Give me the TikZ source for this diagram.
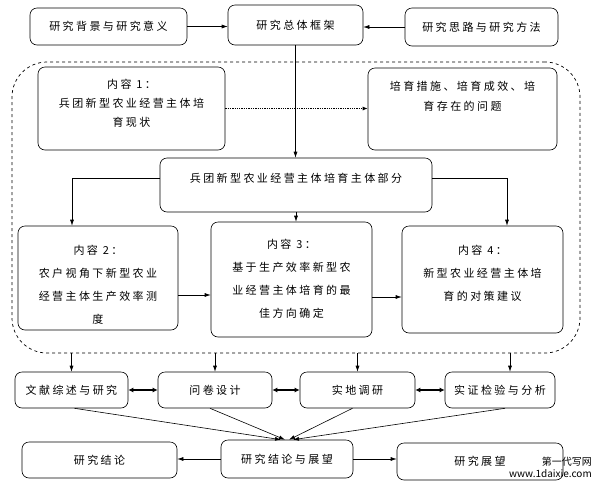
\documentclass[tikz,border=0pt]{standalone}
\usepackage{fontspec}
\newfontfamily\cjk[LetterSpace=22]{Noto Sans CJK SC}
\newfontfamily\wmfont{Noto Sans CJK SC}
\usetikzlibrary{arrows.meta}
\begin{document}
\begin{tikzpicture}[x=1pt,y=-1pt,
 box/.style={draw, rounded corners=7pt, line width=0.6pt, inner sep=0pt},
 txt/.style={font=\cjk\fontsize{11}{19}\selectfont, align=center, inner sep=0pt},
 txtw/.style={font=\cjk\fontsize{11}{23}\selectfont, align=center, inner sep=0pt},
 arr/.style={-{Latex[length=6pt,width=4pt]}, line width=0.6pt},
 darr/.style={{Latex[length=5pt,width=5pt]}-{Latex[length=5pt,width=5pt]}, line width=1.4pt},
 dotarr/.style={-{Latex[length=5pt,width=4pt]}, line width=1.3pt, densely dotted},
]
\useasboundingbox[fill=white] (0,0) rectangle (598,491);
% top row
\node[box, txt, minimum width=157pt, minimum height=37pt] (A) at (108.5,26.5) {研究背景与研究意义};
\node[box, txt, minimum width=135pt, minimum height=40pt] (B) at (295.5,25) {研究总体框架};
\node[box, txt, minimum width=153pt, minimum height=38pt] (C) at (481.5,27) {研究思路与研究方法};
% dashed frame
\node[draw, dashed, line width=0.7pt, rounded corners=35pt, minimum width=568pt, minimum height=291pt, inner sep=0pt] (frame) at (296,207.5) {};
% content boxes
\node[box, minimum width=187pt, minimum height=83pt] (c1) at (131.5,108.5) {};
\node[txt] (c1t) at (131.5,103) {内容 1：\\兵团新型农业经营主体培\\育现状};
\node[box, minimum width=189pt, minimum height=82pt] (rb) at (462.5,109) {};
\node[txt, font=\cjk\fontsize{11}{20}\selectfont] (rbt) at (462.5,96) {培育措施、培育成效、培\\育存在的问题};
\node[box, minimum width=272pt, minimum height=54pt] (m) at (296,185) {};
\node[txt] (mt) at (296,178) {兵团新型农业经营主体培育主体部分};
\node[box, minimum width=160pt, minimum height=104pt] (c2) at (98,278) {};
\node[txtw] (c2t) at (98,285) {内容 2：\\农户视角下新型农业\\经营主体生产效率测\\度};
\node[box, minimum width=161pt, minimum height=115pt] (c3) at (291.5,279.5) {};
\node[txtw] (c3t) at (291.5,279) {内容 3：\\基于生产效率新型农\\业经营主体培育的最\\佳方向确定};
\node[box, minimum width=161pt, minimum height=107pt] (c4) at (482.5,279.5) {};
\node[txtw] (c4t) at (482.5,273.5) {内容 4：\\新型农业经营主体培\\育的对策建议};
% method row
\node[box, txt, minimum width=113pt, minimum height=36pt] (r1) at (71.5,390) {文献综述与研究};
\node[box, txt, minimum width=114pt, minimum height=36pt] (r2) at (215,390) {问卷设计};
\node[box, txt, minimum width=115pt, minimum height=36pt] (r3) at (357.5,390) {实地调研};
\node[box, txt, minimum width=110pt, minimum height=36pt] (r4) at (500,390) {实证检验与分析};
% bottom row
\node[box, txt, minimum width=155pt, minimum height=36pt] (d1) at (99.5,460) {研究结论};
\node[box, txt, minimum width=132pt, minimum height=38pt] (d2) at (287,459) {研究结论与展望};
\node[box, txt, minimum width=166pt, minimum height=37pt] (d3) at (480,461.5) {研究展望};
% watermark
\node[font=\wmfont\fontsize{10}{12}\selectfont, align=right, inner sep=0pt, anchor=east] (wm) at (592,467) {第一代写网\\www.1daixie.com};
% coordinates
\coordinate (ym) at (0,178);
\coordinate (y23) at (0,295);
\coordinate (y34) at (0,297);
\coordinate (lx) at (72,0);
\coordinate (rx) at (507,0);
% connectors
\draw[arr] (A.east) -- (A.east -| B.west);
\draw[arr] (C.west) -- (C.west -| B.east);
\draw[arr] (B.south) -- (B.south |- m.north);
\draw[dotarr] (c1.east) -- (c1.east -| rb.west);
\draw[arr] (m.west |- ym) -- (lx |- ym) -- (lx |- c2.north);
\draw[arr] (m.east |- ym) -- (rx |- ym) -- (rx |- c4.north);
\draw[arr] (m.south) -- (m.south |- c3.north);
\draw[arr] (c2.east |- y23) -- (c3.west |- y23);
\draw[arr] (c3.east |- y34) -- (c4.west |- y34);
\draw[arr] (r1.north |- frame.south) -- (r1.north);
\draw[arr] (r2.north |- frame.south) -- (r2.north);
\draw[arr] (r3.north |- frame.south) -- (r3.north);
\draw[arr] ([xshift=10pt]r4.north |- frame.south) -- ([xshift=10pt]r4.north);
\draw[darr] (r1.east) -- (r2.west);
\draw[darr] (r2.east) -- (r3.west);
\draw[darr] (r3.east) -- (r4.west);
\draw[arr] ([xshift=3pt]r1.south) -- ([xshift=-6pt]d2.north);
\draw[arr] ([xshift=-5pt]r2.south) -- ([xshift=-2pt]d2.north);
\draw[arr] ([xshift=-5pt]r3.south) -- ([xshift=2pt]d2.north);
\draw[arr] ([xshift=5pt]r4.south) -- ([xshift=6pt]d2.north);
\draw[arr] (d2.west) -- (d2.west -| d1.east);
\draw[arr] (d2.east) -- (d2.east -| d3.west);
\end{tikzpicture}
\end{document}
